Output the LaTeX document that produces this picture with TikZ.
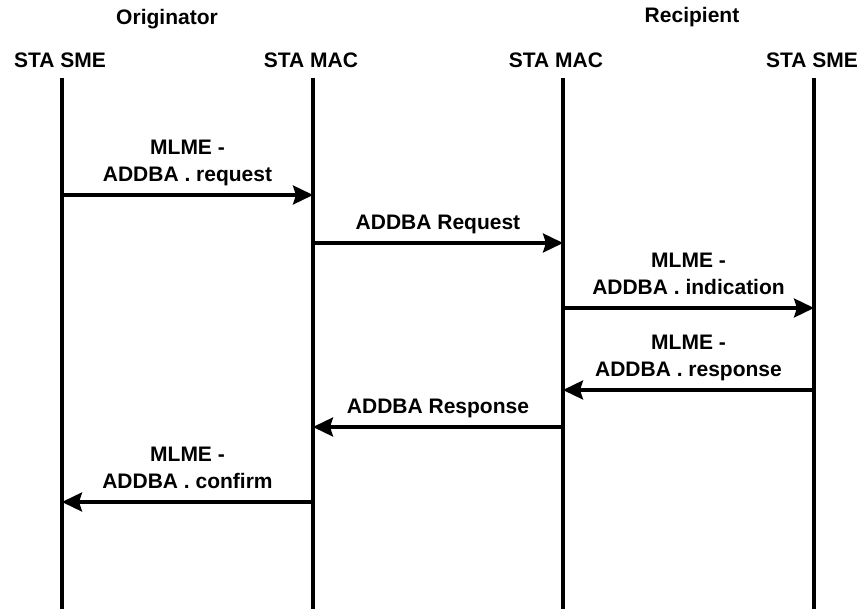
\documentclass[tikz,border=0pt]{standalone}
\usepackage{fontspec}
\setmainfont{Liberation Sans}
\usetikzlibrary{arrows.meta, positioning}
\tikzset{
  every picture/.style={font=\bfseries\fontsize{21}{27}\selectfont, line width=3.2pt},
  head/.style={anchor=base, inner sep=0pt},
  lifeline/.style={line width=3.2pt},
  msg/.style={-{Stealth[length=20pt, width=19pt, inset=3pt]}, line width=3.2pt},
  msglabel/.style={align=center, inner sep=0pt, text depth=0pt, midway, above=12pt},
}

\begin{document}
\begin{tikzpicture}[x=1pt, y=-1pt]
  \useasboundingbox (0,0) rectangle (862,609);
  % headings
  \node[head] (orig) at (167,25) {Originator};
  \node[head] (recip) at (692,23) {Recipient};
  \node[head] (smeA) at (60,68) {STA SME};
  \node[head] (macA) at (311,68) {STA MAC};
  \node[head] (macB) at (556,68) {STA MAC};
  \node[head] (smeB) at (812,68) {STA SME};
  % lifelines
  \coordinate (lA) at (62,78);  \coordinate (lAend) at (62,609);
  \coordinate (lB) at (313,78); \coordinate (lBend) at (313,609);
  \coordinate (lC) at (563,78); \coordinate (lCend) at (563,609);
  \coordinate (lD) at (814,78); \coordinate (lDend) at (814,609);
  \draw[lifeline] (lA) -- (lAend);
  \draw[lifeline] (lB) -- (lBend);
  \draw[lifeline] (lC) -- (lCend);
  \draw[lifeline] (lD) -- (lDend);
  % message rows
  \coordinate (r1) at (0,195);
  \coordinate (r2) at (0,243);
  \coordinate (r3) at (0,308);
  \coordinate (r4) at (0,390);
  \coordinate (r5) at (0,427);
  \coordinate (r6) at (0,502);
  \draw[msg] (lA |- r1) -- node[msglabel] {MLME -\\ADDBA . request} (lB |- r1);
  \draw[msg] (lB |- r2) -- node[msglabel] {ADDBA Request} (lC |- r2);
  \draw[msg] (lC |- r3) -- node[msglabel] {MLME -\\ADDBA . indication} (lD |- r3);
  \draw[msg] (lD |- r4) -- node[msglabel] {MLME -\\ADDBA . response} (lC |- r4);
  \draw[msg] (lC |- r5) -- node[msglabel] {ADDBA Response} (lB |- r5);
  \draw[msg] (lB |- r6) -- node[msglabel] {MLME -\\ADDBA . confirm} (lA |- r6);
\end{tikzpicture}
\end{document}
